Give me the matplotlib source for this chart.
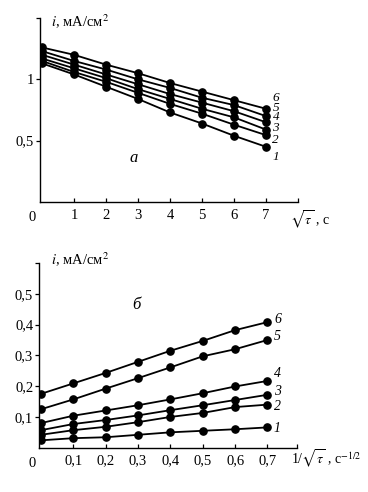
import matplotlib
matplotlib.use("Agg")
import matplotlib.pyplot as plt

plt.rcParams['font.family'] = ['Liberation Serif', 'DejaVu Serif']
plt.rcParams['mathtext.fontset'] = 'stix'
plt.rcParams['font.size'] = 10.5

# panel a: i vs sqrt(tau)
x_a = [0, 1, 2, 3, 4, 5, 6, 7]
i_a = {
    '1': [1.13, 1.04, 0.94, 0.84, 0.73, 0.64, 0.54, 0.45],
    '2': [1.15, 1.06, 0.98, 0.89, 0.80, 0.72, 0.63, 0.545],
    '3': [1.17, 1.09, 1.01, 0.92, 0.84, 0.76, 0.69, 0.59],
    '4': [1.20, 1.12, 1.04, 0.96, 0.88, 0.81, 0.74, 0.65],
    '5': [1.23, 1.15, 1.08, 1.00, 0.93, 0.85, 0.79, 0.70],
    '6': [1.26, 1.20, 1.12, 1.05, 0.97, 0.90, 0.83, 0.76],
}
lab_y_a = {'1': 0.37, '2': 0.505, '3': 0.605, '4': 0.69, '5': 0.765, '6': 0.845}

# panel b: i vs 1/sqrt(tau)
x_b = [0, 0.1, 0.2, 0.3, 0.4, 0.5, 0.6, 0.7]
i_b = {
    '1': [0.024, 0.031, 0.034, 0.042, 0.050, 0.055, 0.060, 0.066],
    '2': [0.042, 0.057, 0.068, 0.083, 0.100, 0.113, 0.132, 0.140],
    '3': [0.057, 0.077, 0.090, 0.105, 0.122, 0.138, 0.155, 0.172],
    '4': [0.080, 0.104, 0.121, 0.138, 0.157, 0.177, 0.199, 0.217],
    '5': [0.125, 0.157, 0.192, 0.226, 0.261, 0.297, 0.320, 0.350],
    '6': [0.175, 0.209, 0.243, 0.279, 0.315, 0.347, 0.382, 0.408],
}
lab_y_b = {'1': 0.062, '2': 0.135, '3': 0.182, '4': 0.242, '5': 0.360, '6': 0.418}

fig = plt.figure(figsize=(3.68, 4.92), dpi=100)
ax1 = fig.add_axes([0.109, 0.5894, 0.701, 0.374])
ax2 = fig.add_axes([0.107, 0.090, 0.699, 0.3754])

for ax in (ax1, ax2):
    ax.spines['top'].set_visible(False)
    ax.spines['right'].set_visible(False)
    for s in ('left', 'bottom'):
        ax.spines[s].set_linewidth(1.0)
    ax.tick_params(axis='x', direction='in', length=3, width=0.9, pad=5)
    ax.tick_params(axis='y', direction='out', length=3, width=0.9, pad=1.5)

# panel a
for k, y in i_a.items():
    ax1.plot(x_a, y, '-o', color='black', lw=1.3, ms=5.2)
    ax1.text(7.2, lab_y_a[k], k, fontstyle='italic', fontsize=9.5, va='center')
ax1.set_xlim(-0.06, 8.0)
ax1.set_ylim(0, 1.5)
ax1.set_xticks([1, 2, 3, 4, 5, 6, 7, 8])
ax1.set_xticklabels(['1', '2', '3', '4', '5', '6', '7', ''])
ax1.set_yticks([0.5, 1.0, 1.5])
ax1.set_yticklabels(['0,5', '1', ''])
ax1.text(-0.03, -0.085, '0', transform=ax1.transAxes, ha='center', va='center')
ax1.text(2.85, 0.36, 'а', fontstyle='italic', fontsize=12, va='center', ha='center')
fig.text(51 / 368, 1 - 27 / 492, r'$i$, мА/см$^2$', fontsize=10.5)
fig.text(290 / 368, 1 - 225 / 492, r'$\sqrt{\tau}$ , с', fontsize=10)

# panel b
for k, y in i_b.items():
    ax2.plot(x_b, y, '-o', color='black', lw=1.3, ms=5.2)
    ax2.text(0.72, lab_y_b[k], k, fontstyle='italic', fontsize=10, va='center')
ax2.set_xlim(-0.005, 0.79)
ax2.set_ylim(0, 0.6)
ax2.set_xticks([0.1, 0.2, 0.3, 0.4, 0.5, 0.6, 0.7, 0.79])
ax2.set_xticklabels(['0,1', '0,2', '0,3', '0,4', '0,5', '0,6', '0,7', ''])
ax2.set_yticks([0.1, 0.2, 0.3, 0.4, 0.5, 0.6])
ax2.set_yticklabels(['0,1', '0,2', '0,3', '0,4', '0,5', ''])
ax2.text(-0.03, -0.085, '0', transform=ax2.transAxes, ha='center', va='center')
ax2.text(0.294, 0.464, 'б', fontstyle='italic', fontsize=12, va='center', ha='center')
fig.text(51 / 368, 1 - 265 / 492, r'$i$, мА/см$^2$', fontsize=10.5)
fig.text(291 / 368, 1 - 464 / 492, r'1/$\sqrt{\tau}$ , с$^{-1/2}$', fontsize=10)

fig.savefig('out.png', dpi=100)
